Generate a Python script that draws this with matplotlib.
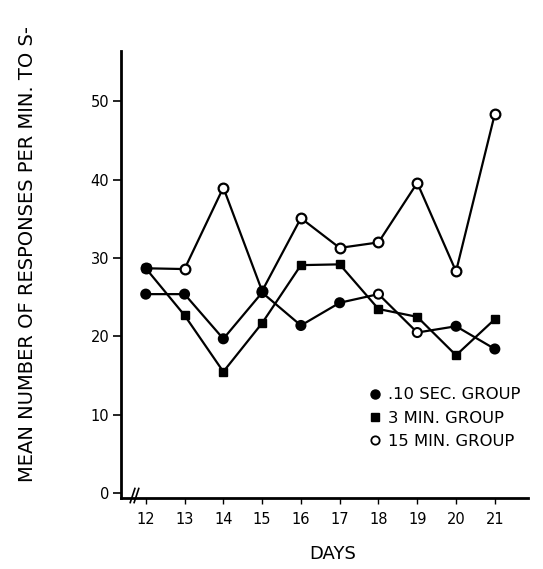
import matplotlib
matplotlib.use("Agg")
import matplotlib.pyplot as plt
from matplotlib.lines import Line2D

# values
days = [12, 13, 14, 15, 16, 17, 18, 19, 20, 21]
sec10 = [25.4, 25.4, 19.7, 25.6, 21.4, 24.3, 25.4, 20.5, 21.3, 18.4]
min3 = [28.7, 22.7, 15.5, 21.7, 29.1, 29.2, 23.5, 22.5, 17.6, 22.2]
min15 = [28.7, 28.6, 39.0, 25.8, 35.1, 31.3, 32.0, 39.6, 28.3, 48.4]
# two of the 10 sec points print as open circles in the source
sec10_filled = [True, True, True, True, True, True, False, False, True, True]

labels = [".10 SEC. GROUP", "3 MIN. GROUP", "15 MIN. GROUP"]
yticks = [0, 10, 20, 30, 40, 50]

plt.rcParams['font.family'] = ['DejaVu Sans']

fig = plt.figure(figsize=(5.43, 5.69), dpi=100)
ax = fig.add_axes([0.222, 0.125, 0.75, 0.785])

lw = 1.6
ax.plot(days, min15, color='black', lw=lw, zorder=2)
ax.plot(days, min3, color='black', lw=lw, zorder=2)
ax.plot(days, sec10, color='black', lw=lw, zorder=2)

ax.plot(days, min15, linestyle='none', marker='o', ms=7, mfc='white',
        mec='black', mew=1.6, zorder=3)
ax.plot(days, min3, linestyle='none', marker='s', ms=5.5, color='black', zorder=4)
face = ['black' if f else 'white' for f in sec10_filled]
ax.scatter(days, sec10, s=42, c=face, edgecolors='black', linewidths=1.5, zorder=5)

ax.set_xlim(11.35, 21.85)
ax.set_ylim(-0.6, 56.4)
ax.set_xticks(days)
ax.set_xticklabels([str(d) for d in days], fontsize=10.5)
ax.set_yticks(yticks)
ax.set_yticklabels([str(v) for v in yticks], fontsize=10.5)

for s in ['top', 'right']:
    ax.spines[s].set_visible(False)
for s in ['left', 'bottom']:
    ax.spines[s].set_linewidth(2)
ax.tick_params(axis='y', direction='out', length=6, width=1.2, pad=2)
ax.tick_params(axis='x', direction='out', length=4, width=1.0, pad=6)

# axis break on the x axis
for dx in (0.0, 0.1):
    ax.plot([11.6 + dx, 11.72 + dx], [-1.2, 0.6], color='black', lw=1.2,
            clip_on=False, zorder=6)

ax.set_xlabel("DAYS", fontsize=13, va='center')
ax.xaxis.set_label_coords(0.52, -0.125)
ax.set_ylabel("MEAN NUMBER OF RESPONSES PER MIN. TO S-", fontsize=14)
ax.yaxis.set_label_coords(-0.205, 0.545)

handles = [
    Line2D([], [], linestyle='none', marker='o', ms=6.5, color='black'),
    Line2D([], [], linestyle='none', marker='s', ms=5.5, color='black'),
    Line2D([], [], linestyle='none', marker='o', ms=6, mfc='white',
           mec='black', mew=1.3),
]
ax.legend(handles, labels, loc='upper left', bbox_to_anchor=(0.655, 0.345),
          bbox_transform=fig.transFigure, frameon=False, fontsize=11.8,
          handlelength=0.6, handletextpad=0.5, labelspacing=0.5)

fig.savefig("out.png", dpi=100)
